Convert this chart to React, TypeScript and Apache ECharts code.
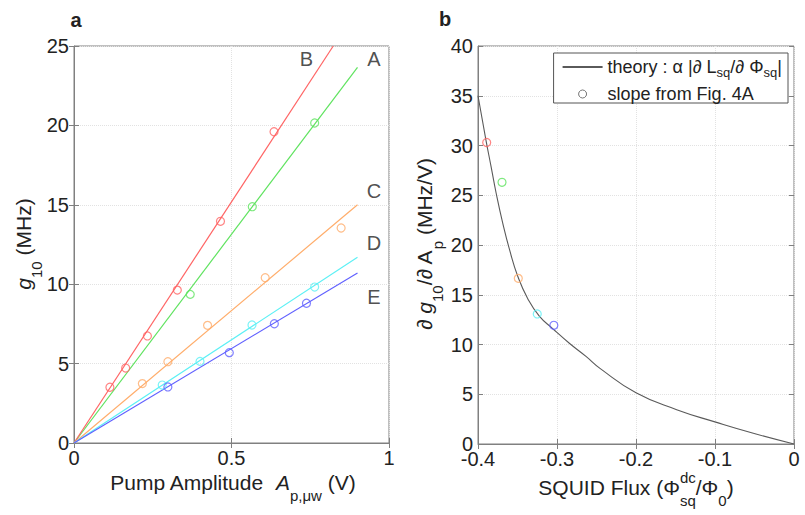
import { useEffect, useRef } from 'react';
import * as echarts from 'echarts';

const FONT = 'Liberation Sans';

// ---------- Panel a : g10 vs pump amplitude ----------
const curveNames = ['A', 'B', 'C', 'D', 'E'];
const curveColors = ['#5fe35f', '#ff6464', '#ffad6b', '#5cf0f5', '#6060ff'];
// fitted lines from origin to these end points
const fitEnds = [
  [0.9, 23.66],
  [0.823, 25.0],
  [0.9, 15.0],
  [0.9, 11.69],
  [0.9, 10.7],
];
const pointsA = [[0.369, 9.36], [0.566, 14.88], [0.764, 20.15]];
const pointsB = [[0.114, 3.51], [0.164, 4.72], [0.233, 6.74], [0.328, 9.63], [0.465, 13.96], [0.635, 19.6]];
const pointsC = [[0.217, 3.74], [0.298, 5.12], [0.424, 7.41], [0.607, 10.41], [0.848, 13.54]];
const pointsD = [[0.28, 3.65], [0.4, 5.14], [0.565, 7.43], [0.764, 9.82]];
const pointsE = [[0.298, 3.53], [0.493, 5.69], [0.636, 7.51], [0.738, 8.8]];
const curvePoints = [pointsA, pointsB, pointsC, pointsD, pointsE];
// positions of the letter labels (data coords)
const letterPos = [[0.952, 24.16], [0.738, 24.16], [0.952, 15.87], [0.952, 12.6], [0.952, 9.21]];

// ---------- Panel b : slope vs SQUID flux ----------
const theoryFlux = [-0.4, -0.39, -0.3835, -0.377, -0.3687, -0.36, -0.3497, -0.337, -0.3224, -0.3055, -0.284, -0.2633, -0.2456, -0.2, -0.1485, -0.0991, -0.0515, 0];
const theoryValue = [35.0, 30.57, 27.9, 25.2, 22.2, 19.5, 16.86, 14.6, 12.85, 11.6, 10.1, 8.8, 7.6, 5.15, 3.45, 2.2, 1.08, 0];
const slopeFlux = [-0.389, -0.3696, -0.349, -0.325, -0.304];
const slopeValue = [30.3, 26.3, 16.65, 13.07, 11.93];
const slopeColors = ['#ff6464', '#5fe35f', '#ffad6b', '#5cf0f5', '#6060ff'];

const xTicksA = [0, 0.5, 1];
const yMaxA = 25;
const xTicksB = [-0.4, 0];
const yMaxB = 40;

// ---------- text helper for axis titles ----------
let mctx: CanvasRenderingContext2D | null = null;
function measure(text: string, size: number, italic: boolean) {
  if (!mctx) mctx = document.createElement('canvas').getContext('2d');
  mctx!.font = `${italic ? 'italic ' : ''}${size}px "${FONT}"`;
  return mctx!.measureText(text).width;
}
type Seg = { t: string; k?: 'i' | 'sub' | 'sup'; stack?: boolean };
function title(segs: Seg[], size: number, cx: number, cy: number, rot: boolean) {
  const items: any[] = [];
  let x = 0;
  let lastX = 0;
  for (const s of segs) {
    const small = s.k === 'sub' || s.k === 'sup';
    const fs = small ? Math.round(size * 0.72) : size;
    const w = measure(s.t, fs, s.k === 'i');
    const sx = s.stack ? lastX : x;
    const dy = s.k === 'sub' ? size * 0.62 : s.k === 'sup' ? -size * 0.45 : 0;
    items.push({ text: s.t, x: sx, y: dy, fs, italic: s.k === 'i' });
    if (s.stack) x = Math.max(x, sx + w);
    else {
      lastX = sx;
      x = sx + w;
    }
  }
  const off = -x / 2;
  return {
    type: 'group',
    x: cx,
    y: cy,
    rotation: rot ? Math.PI / 2 : 0,
    silent: true,
    children: items.map((it) => ({
      type: 'text',
      x: it.x + off,
      y: it.y,
      style: {
        text: it.text,
        fontSize: it.fs,
        fontFamily: FONT,
        fontStyle: it.italic ? 'italic' : 'normal',
        fill: '#222',
        align: 'left',
        verticalAlign: 'middle',
        textAlign: 'left',
        textVerticalAlign: 'middle',
      },
    })),
  };
}

const AX = '#808080';
const mainAxis = (extra: any) => ({
  type: 'value',
  axisLine: { show: true, onZero: false, lineStyle: { color: AX, width: 1 } },
  axisTick: { show: true, inside: true, length: 5, lineStyle: { color: AX } },
  axisLabel: { color: '#222', fontSize: 20, fontFamily: FONT, margin: 5 },
  splitLine: { show: true, lineStyle: { color: '#e2e2e2', type: 'dotted' } },
  ...extra,
});
const boxAxis = (extra: any) => ({
  type: 'value',
  axisLine: { show: false },
  axisTick: { show: true, inside: true, length: 5, lineStyle: { color: AX } },
  axisLabel: { show: false },
  splitLine: { show: false },
  ...extra,
});

function buildOption() {
  const series: any[] = [];
  curveNames.forEach((n, i) => {
    series.push({
      name: 'fit ' + n,
      type: 'line',
      xAxisIndex: 0,
      yAxisIndex: 0,
      data: [[0, 0], fitEnds[i]],
      symbol: 'none',
      lineStyle: { color: curveColors[i], width: 1.2 },
      z: 2,
    });
    series.push({
      name: 'data ' + n,
      type: 'scatter',
      xAxisIndex: 0,
      yAxisIndex: 0,
      data: curvePoints[i],
      symbol: 'circle',
      symbolSize: 8,
      itemStyle: { color: 'transparent', borderColor: curveColors[i], borderWidth: 1.2 },
      z: 3,
    });
  });
  series.push({
    name: 'letters',
    type: 'scatter',
    xAxisIndex: 0,
    yAxisIndex: 0,
    symbolSize: 1,
    itemStyle: { color: 'transparent' },
    data: curveNames.map((n, i) => ({ name: n, value: letterPos[i] })),
    label: {
      show: true,
      position: 'inside',
      formatter: (p: any) => p.name,
      fontSize: 20,
      fontFamily: FONT,
      color: '#222',
    },
    z: 4,
  });
  series.push({
    name: 'theory',
    type: 'line',
    xAxisIndex: 2,
    yAxisIndex: 2,
    data: theoryFlux.map((x, i) => [x, theoryValue[i]]),
    symbol: 'none',
    smooth: 0.5,
    itemStyle: { color: '#5a5a5a' },
    lineStyle: { color: '#5a5a5a', width: 1.1 },
    z: 2,
  });
  series.push({
    name: 'slope',
    type: 'scatter',
    xAxisIndex: 2,
    yAxisIndex: 2,
    symbol: 'circle',
    symbolSize: 8,
    data: slopeFlux.map((x, i) => ({
      value: [x, slopeValue[i]],
      itemStyle: { color: 'transparent', borderColor: slopeColors[i], borderWidth: 1.2 },
    })),
    itemStyle: { color: 'transparent', borderColor: '#555', borderWidth: 1.2 },
    z: 3,
  });

  return {
    animation: false,
    backgroundColor: '#fff',
    textStyle: { fontFamily: FONT },
    grid: [
      { left: 74, right: 416, top: 46, bottom: 72, show: true, borderColor: AX, borderWidth: 1 },
      { left: 478, right: 11, top: 46, bottom: 71, show: true, borderColor: AX, borderWidth: 1 },
    ],
    xAxis: [
      mainAxis({ gridIndex: 0, position: 'bottom', min: xTicksA[0], max: xTicksA[2], interval: 0.5 }),
      boxAxis({ gridIndex: 0, position: 'top', min: xTicksA[0], max: xTicksA[2], interval: 0.5 }),
      mainAxis({ gridIndex: 1, position: 'bottom', min: xTicksB[0], max: xTicksB[1], interval: 0.1 }),
      boxAxis({ gridIndex: 1, position: 'top', min: xTicksB[0], max: xTicksB[1], interval: 0.1 }),
    ],
    yAxis: [
      mainAxis({ gridIndex: 0, position: 'left', min: 0, max: yMaxA, interval: 5 }),
      boxAxis({ gridIndex: 0, position: 'right', min: 0, max: yMaxA, interval: 5 }),
      mainAxis({ gridIndex: 1, position: 'left', min: 0, max: yMaxB, interval: 5 }),
      boxAxis({ gridIndex: 1, position: 'right', min: 0, max: yMaxB, interval: 5 }),
    ],
    legend: {
      orient: 'vertical',
      right: 17,
      top: 53,
      padding: [5, 6, 0, 8],
      itemGap: 6,
      itemWidth: 40,
      itemHeight: 8,
      borderColor: '#555',
      borderWidth: 1,
      backgroundColor: '#fff',
      selectedMode: false,
      data: [
        { name: 'theory', itemStyle: { color: 'transparent', borderWidth: 0, opacity: 0 } },
        { name: 'slope', icon: 'circle', itemStyle: { color: 'transparent', borderColor: '#555', borderWidth: 1 } },
      ],
      formatter: (name: string) =>
        name === 'theory'
          ? '{n|theory : α |∂ L}{s|sq}{n|/∂ Φ}{s|sq}{n||}'
          : '{n|slope from Fig. 4A}',
      textStyle: {
        fontFamily: FONT,
        fontSize: 18,
        color: '#222',
        rich: {
          n: { fontSize: 18, lineHeight: 24, color: '#222', fontFamily: FONT },
          s: { fontSize: 13, lineHeight: 4, verticalAlign: 'bottom', color: '#222', fontFamily: FONT },
        },
      },
    },
    graphic: [
      {
        type: 'text',
        x: 76,
        y: 20,
        style: { text: 'a', fontSize: 20, fontWeight: 'bold', fontFamily: FONT, fill: '#222', align: 'center', verticalAlign: 'middle', textAlign: 'center', textVerticalAlign: 'middle' },
      },
      {
        type: 'text',
        x: 445,
        y: 19,
        style: { text: 'b', fontSize: 20, fontWeight: 'bold', fontFamily: FONT, fill: '#222', align: 'center', verticalAlign: 'middle', textAlign: 'center', textVerticalAlign: 'middle' },
      },
      title([{ t: 'Pump Amplitude  ' }, { t: 'A', k: 'i' }, { t: 'p,μw', k: 'sub' }, { t: ' (V)' }], 21, 233, 482, false),
      title([{ t: 'g', k: 'i' }, { t: '10', k: 'sub' }, { t: ' (MHz)' }], 21, 23, 244, true),
      title([{ t: '∂ ' }, { t: 'g', k: 'i' }, { t: '10', k: 'sub' }, { t: '/∂ A' }, { t: 'p', k: 'sub' }, { t: ' (MHz/V)' }], 21, 424, 244, true),
      title([{ t: 'SQUID Flux (Φ' }, { t: 'dc', k: 'sup' }, { t: 'sq', k: 'sub', stack: true }, { t: '/Φ' }, { t: '0', k: 'sub' }, { t: ')' }], 21, 636, 487, false),
    ],
    series,
  };
}

export default function App() {
  const ref = useRef<HTMLDivElement>(null);
  useEffect(() => {
    if (!ref.current) return;
    const chart = echarts.init(ref.current, null, { renderer: 'svg' });
    chart.setOption(buildOption() as any);
    return () => chart.dispose();
  }, []);
  return (
    <div
      ref={ref}
      style={{ position: 'absolute', left: 0, top: 0, width: 805, height: 515, background: '#fff' }}
    />
  );
}
